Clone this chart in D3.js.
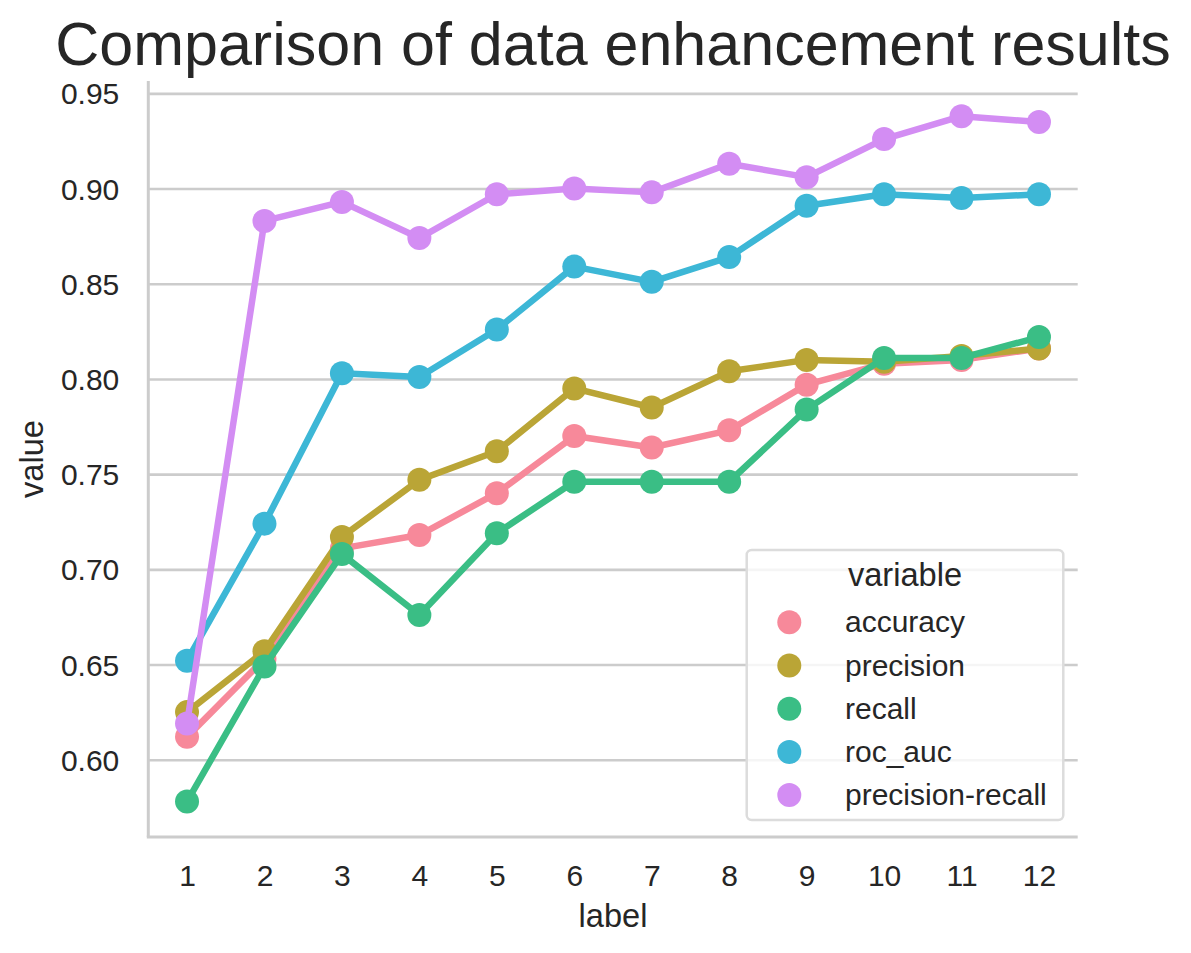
<!DOCTYPE html>
<html>
<head>
<meta charset="utf-8">
<script src="https://cdn.jsdelivr.net/npm/d3@7"></script>
<style>
    body { margin: 0; background: #fff; }
    svg { font-family: "Liberation Sans", Arial, sans-serif; }
    text { fill: #262626; }
</style>
</head>
<body>
<svg id="chart" width="1191" height="953"></svg>
<script>

// values
const labels = ["1", "2", "3", "4", "5", "6", "7", "8", "9", "10", "11", "12"];
const variables = ["accuracy", "precision", "recall", "roc_auc", "precision-recall"];
const colors = ["#f7899a", "#baa536", "#3abe85", "#3db7d6", "#d38df3"];

const accuracy = [0.612, 0.653, 0.711, 0.718, 0.740, 0.770, 0.764, 0.773, 0.797, 0.808, 0.810, 0.816];
const precision = [0.625, 0.657, 0.717, 0.747, 0.762, 0.795, 0.785, 0.804, 0.810, 0.809, 0.812, 0.816];
const recall = [0.578, 0.649, 0.708, 0.676, 0.719, 0.746, 0.746, 0.746, 0.784, 0.811, 0.811, 0.822];
const roc_auc = [0.652, 0.724, 0.803, 0.801, 0.826, 0.859, 0.851, 0.864, 0.891, 0.897, 0.895, 0.897];
const precision_recall = [0.619, 0.883, 0.893, 0.874, 0.897, 0.900, 0.898, 0.913, 0.906, 0.926, 0.938, 0.935];

const yTicks = [0.60, 0.65, 0.70, 0.75, 0.80, 0.85, 0.90, 0.95];

const series = [accuracy, precision, recall, roc_auc, precision_recall];

// plot area (window.top is taken, so prefix these)
const ax_left = 148.3, ax_right = 1077.7, ax_top = 81, ax_bottom = 837;

const svg = d3.select("#chart");

const x = d3.scalePoint()
    .domain(labels)
    .range([ax_left, ax_right])
    .padding(0.5);

const y = d3.scaleLinear()
    .domain([0.5594, 0.9565])
    .range([ax_bottom, ax_top]);

// horizontal grid + y tick labels
const yAxis = svg.append("g")
    .attr("transform", "translate(" + ax_left + ",0)")
    .call(d3.axisLeft(y).tickValues(yTicks).tickFormat(d3.format(".2f"))
        .tickSize(-(ax_right - ax_left)).tickPadding(29));
yAxis.select(".domain").remove();
yAxis.selectAll(".tick line")
    .attr("stroke", "#cccccc")
    .attr("stroke-width", 2.6);
yAxis.selectAll(".tick text")
    .style("font-size", "30px")
    .attr("dy", "0.35em");

// x tick labels, no tick marks
const xAxis = svg.append("g")
    .attr("transform", "translate(0," + ax_bottom + ")")
    .call(d3.axisBottom(x).tickSize(0).tickPadding(27.4));
xAxis.select(".domain").remove();
xAxis.selectAll(".tick text")
    .style("font-size", "30px");

// spines (despined: left + bottom only)
svg.append("line")
    .attr("x1", ax_left).attr("x2", ax_left)
    .attr("y1", ax_top).attr("y2", ax_bottom)
    .attr("stroke", "#cccccc").attr("stroke-width", 3);
svg.append("line")
    .attr("x1", ax_left - 1.5).attr("x2", ax_right)
    .attr("y1", ax_bottom).attr("y2", ax_bottom)
    .attr("stroke", "#cccccc").attr("stroke-width", 3);

// one line + markers per variable, later ones on top
const line = d3.line()
    .x((d, i) => x(labels[i]))
    .y(d => y(d));

series.forEach((vals, k) => {
    const g = svg.append("g").attr("class", "series");
    g.append("path")
        .datum(vals)
        .attr("d", line)
        .attr("fill", "none")
        .attr("stroke", colors[k])
        .attr("stroke-width", 6.5)
        .attr("stroke-linejoin", "round");
    g.selectAll("circle")
        .data(vals)
        .join("circle")
            .attr("cx", (d, i) => x(labels[i]))
            .attr("cy", d => y(d))
            .attr("r", 12)
            .attr("fill", colors[k]);
});

// title and axis labels
svg.append("text")
    .attr("x", (ax_left + ax_right) / 2)
    .attr("y", 65)
    .attr("text-anchor", "middle")
    .style("font-size", "61px")
    .text("Comparison of data enhancement results");

svg.append("text")
    .attr("x", (ax_left + ax_right) / 2)
    .attr("y", 927)
    .attr("text-anchor", "middle")
    .style("font-size", "32.6px")
    .text("label");

svg.append("text")
    .attr("transform", "translate(43.3," + (ax_top + ax_bottom) / 2 + ") rotate(-90)")
    .attr("text-anchor", "middle")
    .style("font-size", "32.6px")
    .text("value");

// legend
const lg = svg.append("g").attr("class", "legend");
lg.append("rect")
    .attr("x", 746.7).attr("y", 550)
    .attr("width", 316.6).attr("height", 270)
    .attr("rx", 5)
    .attr("fill", "#ffffff").attr("fill-opacity", 0.8)
    .attr("stroke", "#dcdcdc").attr("stroke-width", 2.5);
lg.append("text")
    .attr("x", 905).attr("y", 586)
    .attr("text-anchor", "middle")
    .style("font-size", "32.6px")
    .text("variable");

variables.forEach((v, k) => {
    const cy = 622.3 + k * 43.2;
    lg.append("circle")
        .attr("cx", 789.3).attr("cy", cy)
        .attr("r", 12)
        .attr("fill", colors[k]);
    lg.append("text")
        .attr("x", 845).attr("y", cy + 10)
        .style("font-size", "30px")
        .text(v);
});

</script>
</body>
</html>
